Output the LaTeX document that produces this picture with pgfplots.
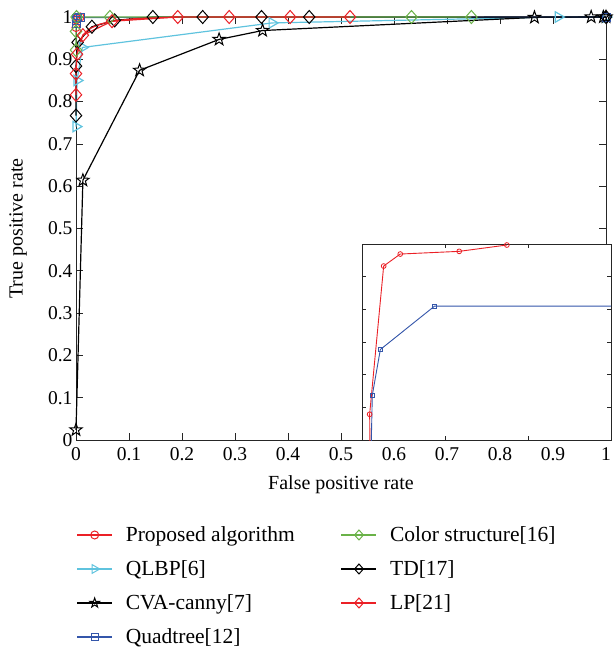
\documentclass[border=0pt]{standalone}
\usepackage{fontspec}
\setmainfont{Liberation Serif}
\usepackage{pgfplots}
\pgfplotsset{compat=1.18}
\usetikzlibrary{plotmarks}

\definecolor{cred}{RGB}{235,32,38}
\definecolor{ccyan}{RGB}{95,195,222}
\definecolor{cgreen}{RGB}{106,178,72}
\definecolor{cblue}{RGB}{52,86,170}

\pgfdeclareplotmark{pentagram}{%
  \pgfpathmoveto{\pgfpointpolar{90}{\pgfplotmarksize}}%
  \pgfpathlineto{\pgfpointpolar{126}{0.40\pgfplotmarksize}}%
  \pgfpathlineto{\pgfpointpolar{162}{\pgfplotmarksize}}%
  \pgfpathlineto{\pgfpointpolar{198}{0.40\pgfplotmarksize}}%
  \pgfpathlineto{\pgfpointpolar{234}{\pgfplotmarksize}}%
  \pgfpathlineto{\pgfpointpolar{270}{0.40\pgfplotmarksize}}%
  \pgfpathlineto{\pgfpointpolar{306}{\pgfplotmarksize}}%
  \pgfpathlineto{\pgfpointpolar{342}{0.40\pgfplotmarksize}}%
  \pgfpathlineto{\pgfpointpolar{18}{\pgfplotmarksize}}%
  \pgfpathlineto{\pgfpointpolar{54}{0.40\pgfplotmarksize}}%
  \pgfpathclose\pgfusepathqstroke}
\pgfdeclareplotmark{mdiamond}{%
  \pgfpathmoveto{\pgfqpoint{0pt}{\pgfplotmarksize}}%
  \pgfpathlineto{\pgfqpoint{0.88\pgfplotmarksize}{0pt}}%
  \pgfpathlineto{\pgfqpoint{0pt}{-\pgfplotmarksize}}%
  \pgfpathlineto{\pgfqpoint{-0.88\pgfplotmarksize}{0pt}}%
  \pgfpathclose\pgfusepathqstroke}

\begin{document}
\begin{tikzpicture}
\path[use as bounding box] (0,0) rectangle (613pt,-650pt);
\begin{axis}[
  name=main, at={(76pt,-440pt)}, anchor=south west,
  width=530pt, height=423pt, scale only axis,
  xmin=0, xmax=1, ymin=0, ymax=1,
  xtick={0,0.1,0.2,0.3,0.4,0.5,0.6,0.7,0.8,0.9,1},
  ytick={0,0.1,0.2,0.3,0.4,0.5,0.6,0.7,0.8,0.9,1},
  /pgf/number format/assume math mode=true,
  tick align=inside, major tick length=7pt,
  tick style={black!85, line width=0.8pt},
  axis line style={black!85, line width=1pt},
  ticklabel style={font=\fontsize{19.5}{22}\selectfont},
  xticklabel style={yshift=-4pt},
  label style={font=\fontsize{20}{24}\selectfont},
  xlabel={False positive rate}, ylabel={True positive rate},
  xlabel style={at={(axis description cs:0.5,-0.106)}, anchor=center},
  ylabel style={at={(axis description cs:-0.1094,0.5)}, anchor=center},
  clip=false,
  every axis plot/.append style={line width=1.2pt, mark options={solid, line width=1pt}},
  legend columns=2,
  legend cell align=left,
  legend image code/.code={\draw[mark repeat=2,mark phase=2,#1] plot coordinates {(0pt,0pt)(17.5pt,0pt)(35pt,0pt)};},
  legend style={at={(axis description cs:0.001,-0.2009)}, anchor=north west,
    draw=none, fill=none, inner sep=0pt, outer sep=0pt,
    font=\fontsize{21.5}{24}\selectfont,
    nodes={inner sep=0pt, text height=17pt, text depth=3pt},
    row sep=14pt,
    /tikz/every odd column/.append style={column sep=13pt},
    /tikz/every even column/.append style={column sep=46pt}},
]
% legend (row-wise order gives two columns as in the reference)
\addlegendimage{cred, line width=1.3pt, mark=o, mark size=4pt, mark options={line width=1pt}}
\addlegendentry{Proposed algorithm}
\addlegendimage{cgreen, line width=1.3pt, mark=mdiamond, mark size=5pt, mark options={line width=1pt}}
\addlegendentry{Color structure[16]}
\addlegendimage{ccyan, line width=1.3pt, mark=triangle, mark size=5pt, mark options={rotate=-90, line width=1pt}}
\addlegendentry{QLBP[6]}
\addlegendimage{black, line width=1.3pt, mark=mdiamond, mark size=5pt, mark options={line width=1pt}}
\addlegendentry{TD[17]}
\addlegendimage{black, line width=1.3pt, mark=pentagram, mark size=5pt, mark options={line width=1pt}}
\addlegendentry{CVA-canny[7]}
\addlegendimage{cred, line width=1.3pt, mark=mdiamond, mark size=5pt, mark options={line width=1pt}}
\addlegendentry{LP[21]}
\addlegendimage{cblue, line width=1.3pt, mark=square, mark size=3.5pt, mark options={line width=1pt}}
\addlegendentry{Quadtree[12]}

% Proposed algorithm
\addplot[forget plot, cred, mark=o, mark size=4pt] coordinates {
 (0,0.975) (0.0004,0.993) (0.001,0.997) (0.0035,0.999) (0.008,1.0)};
% QLBP
\addplot[forget plot, ccyan, mark=triangle, mark size=6pt, mark options={rotate=-90}] coordinates {
 (0,0.741) (0.002,0.850) (0.012,0.928) (0.37,0.986) (0.91,1.0) (1,1)};
% CVA-canny
\addplot[forget plot, black, mark=pentagram, mark size=6.5pt] coordinates {
 (0,0.024) (0.013,0.614) (0.12,0.874) (0.27,0.947) (0.352,0.968) (0.865,0.999) (0.972,1.0) (0.995,1.0) (1,1)};
% Quadtree
\addplot[forget plot, cblue, mark=square, mark size=4pt] coordinates {
 (0,0.985) (0.0003,0.992) (0.0008,0.996) (0.003,0.998) (0.008,0.999) (1,1)};
% TD
\addplot[forget plot, black, mark=mdiamond, mark size=6.5pt] coordinates {
 (0,0.767) (0,0.884) (0.003,0.940) (0.03,0.977) (0.073,0.992) (0.145,1) (0.239,1) (0.35,1) (0.44,1) (1,1)};
% Color structure
\addplot[forget plot, cgreen, mark=mdiamond, mark size=6.5pt] coordinates {
 (0,0.922) (0,0.966) (0.001,1) (0.064,1) (0.633,1) (0.746,1)};
% LP
\addplot[forget plot, cred, mark=mdiamond, mark size=6.5pt] coordinates {
 (0,0.816) (0,0.866) (0.002,0.912) (0.013,0.957) (0.068,0.990) (0.192,1) (0.289,1) (0.404,1) (0.517,1)};
\addplot[forget plot, cred, no marks] coordinates {
 (0.002,0.912) (0.006,0.935) (0.013,0.957) (0.025,0.972) (0.045,0.983) (0.068,0.990) (0.11,0.996) (0.192,1)};
\end{axis}

\begin{axis}[
  at={(362pt,-440pt)}, anchor=south west,
  width=249pt, height=196pt, scale only axis,
  xmin=0, xmax=3, ymin=0, ymax=6,
  xtick={1,2}, ytick={1,2,3,4,5},
  xticklabels={}, yticklabels={},
  tick align=inside, major tick length=4pt,
  tick style={black!85, line width=0.6pt},
  axis line style={black!85, line width=1pt},
  axis background/.style={fill=white},
  clip=true,
]
\addplot[cred, line width=0.9pt, mark=o, mark size=2.4pt, mark options={solid, line width=0.8pt}] coordinates {
 (0.10,-1) (0.092,0.787) (0.261,5.325) (0.461,5.693) (1.171,5.775) (1.745,5.969)};
\addplot[cblue, line width=0.9pt, mark=square, mark size=2pt, mark options={solid, line width=0.8pt}] coordinates {
 (0.104,-1) (0.124,1.370) (0.221,2.770) (0.874,4.099) (3.3,4.099)};
\end{axis}
\end{tikzpicture}
\end{document}
